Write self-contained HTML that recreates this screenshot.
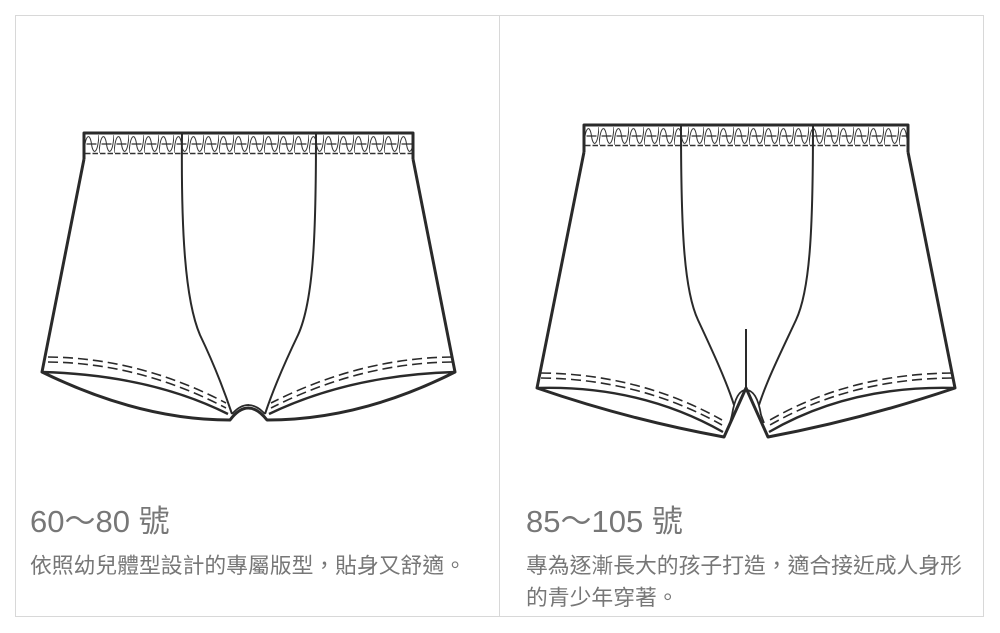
<!DOCTYPE html>
<html><head><meta charset="utf-8"><style>
html,body{margin:0;padding:0;background:#fff;}
body{width:1000px;height:633px;position:relative;overflow:hidden;font-family:"Liberation Sans","Noto Sans CJK TC",sans-serif;}
.box{position:absolute;left:15px;top:15px;width:969px;height:602px;border:1px solid #d8d8d8;box-sizing:border-box;}
.div{position:absolute;left:499px;top:15px;width:1px;height:602px;background:#d8d8d8;}
.t{position:absolute;color:#777;font-size:31px;line-height:34px;}
.s{position:absolute;color:#777;font-size:21.8px;line-height:32px;}
svg{position:absolute;left:0;top:0;}
</style></head><body>
<div class="box"></div><div class="div"></div>
<svg width="1000" height="633" viewBox="0 0 1000 633">
<defs>
<pattern id="w1" patternUnits="userSpaceOnUse" x="84" y="133" width="15" height="24">
<path d="M0 20 C1.5 0 6 0 7.5 11 C9 22 13.5 22 15 2" fill="none" stroke="#333" stroke-width="1"/>
<path d="M2.5 11 h10" stroke="#333" stroke-width="1.3"/>
<path d="M1 20.5 h5.5 M8.5 20.5 h5.5" stroke="#333" stroke-width="1.6"/>
</pattern>
<pattern id="w2" patternUnits="userSpaceOnUse" x="584" y="125" width="15" height="24">
<path d="M0 20 C1.5 0 6 0 7.5 11 C9 22 13.5 22 15 2" fill="none" stroke="#333" stroke-width="1"/>
<path d="M2.5 11 h10" stroke="#333" stroke-width="1.3"/>
<path d="M1 20.5 h5.5 M8.5 20.5 h5.5" stroke="#333" stroke-width="1.6"/>
</pattern>
</defs>
<g fill="none" stroke="#2a2a2a" stroke-width="3" stroke-linejoin="round">
<!-- LEFT -->
<rect x="84" y="133" width="329" height="24" fill="url(#w1)" stroke="none"/>
<path d="M84 159 V133 H413 V159"/>
<path d="M84 159 L42 372 Q140 420 230 420 Q248 396 267 420 Q360 420 455 372 L413 159"/>
<path stroke-width="2" d="M182 134 C181 230 185 300 200 335 C212 360 224 390 232 414 M316 134 C316 230 314 300 298 335 C286 360 273 390 265 414"/>
<path stroke-width="2.4" d="M42 372 Q150 375 228 414 M455 372 Q350 375 269 414"/>
<path stroke-width="1.6" stroke-dasharray="10 5" d="M48 357 Q140 358 226 403 M48 362 Q140 363 226 408 M452 357 Q360 358 271 403 M452 362 Q360 363 271 408"/>
<path stroke-width="1.7" d="M232 414 Q248 396 265 414 M236 410 Q248 400 261 410"/>
<!-- RIGHT -->
<rect x="584" y="125" width="324" height="24" fill="url(#w2)" stroke="none"/>
<path d="M584 152 V125 H908 V152"/>
<path d="M584 152 L537 388 Q630 420 724 437 L746 388 L768 437 Q860 420 955 388 L908 152"/>
<path stroke-width="2" d="M681 126 C681 230 684 290 698 320 C712 350 726 380 734 405 M813 126 C813 230 810 290 796 320 C782 350 767 380 759 405"/>
<path stroke-width="2" d="M746 329 V388"/>
<path stroke-width="2.4" d="M537 388 Q640 385 723 432 M955 388 Q850 385 769 432"/>
<path stroke-width="1.6" stroke-dasharray="10 5" d="M541 373 Q640 374 722 420 M541 378 Q640 379 722 425 M952 373 Q850 374 770 420 M952 378 Q850 379 770 425"/>
<path stroke-width="1.8" d="M732 415 Q736 390 746 390 Q757 390 761 415 M732 415 L730 423 M761 415 L764 423"/>
</g>
</svg>
<div class="t" style="left:30px;top:505px;">60～80 號</div>
<div class="s" style="left:30px;top:550px;">依照幼兒體型設計的專屬版型，貼身又舒適。</div>
<div class="t" style="left:526px;top:505px;">85～105 號</div>
<div class="s" style="left:526px;top:550px;">專為逐漸長大的孩子打造，適合接近成人身形<br>的青少年穿著。</div>
</body></html>
